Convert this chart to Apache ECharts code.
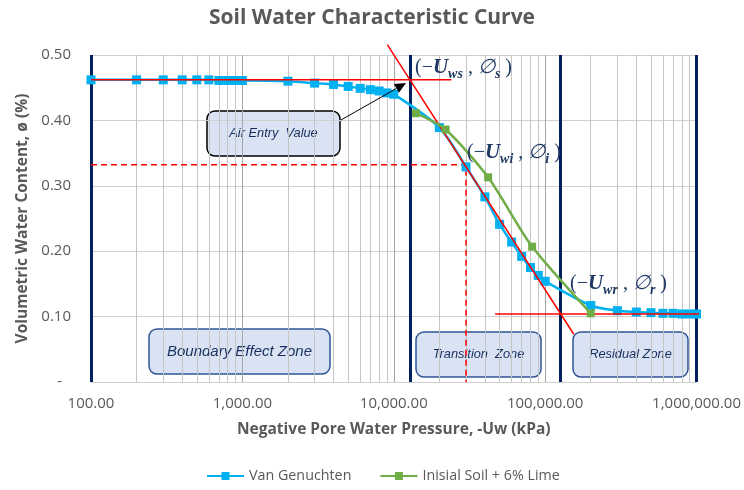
<!DOCTYPE html>
<html>
<head>
<meta charset="utf-8">
<script src="https://cdn.jsdelivr.net/npm/echarts@6/dist/echarts.min.js"></script>
<style>
  html, body { margin: 0; padding: 0; background: #fff; }
  #chart { width: 744px; height: 490px; }
</style>
</head>
<body>
<div id="chart"></div>
<script>
// Soil water characteristic curve: matric suction (kPa, log scale) vs volumetric water content

// Van Genuchten fit
const suctionVG = [100, 200, 300, 400, 500, 600, 700, 800, 900, 1000,
  2000, 3000, 4000, 5000, 6000, 7000, 8000, 9000, 10000,
  20000, 30000, 40000, 50000, 60000, 70000, 80000, 90000, 100000,
  200000, 300000, 400000, 500000, 600000, 700000, 800000, 900000, 1000000];
const contentVG = [0.462, 0.462, 0.462, 0.462, 0.462, 0.462, 0.461, 0.461, 0.461, 0.461,
  0.460, 0.457, 0.455, 0.452, 0.449, 0.447, 0.445, 0.442, 0.440,
  0.389, 0.329, 0.283, 0.241, 0.214, 0.192, 0.175, 0.163, 0.154,
  0.117, 0.109, 0.107, 0.106, 0.105, 0.105, 0.104, 0.104, 0.104];

// Measured: initial soil + 6% lime
const suctionLime = [14000, 22000, 42000, 82000, 200000];
const contentLime = [0.411, 0.386, 0.313, 0.207, 0.105];

// Construction lines of the SWCC
const saturatedLine = [[100, 0.462], [24000, 0.462]];
const tangentLine = [[9060, 0.516], [154600, 0.073]];
const residualLine = [[46700, 0.104], [1080000, 0.104]];
const inflectionGuide = [[100, 0.332], [30000, 0.332], [30000, 0]];

// Zone boundaries (kPa)
const zoneBounds = [100, 12800, 126500, 1000000];
const zoneNames = ['Boundary Effect Zone', 'Transition  Zone', 'Residual Zone'];

const seriesNames = ['Van Genuchten', 'Inisial Soil + 6% Lime'];

const FONT = '"Open Sans", "Liberation Sans", sans-serif';
const BOX_FONT = '"Liberation Sans", Arial, sans-serif';
const MATH_FONT = '"Liberation Serif", "DejaVu Serif", serif';
const GREY = '#595959';
const NAVY = '#002060';
const BOX_TEXT = '#172F5E';
const MATH = '#1F3864';

// minor log gridlines at 2..9 of each decade
const minorGrid = [];
for (let d = 100; d < 1000000; d *= 10) {
  for (let k = 2; k <= 9; k++) minorGrid.push(d * k);
}

function fmtX(v) {
  return Number(v).toLocaleString('en-US', { minimumFractionDigits: 2, maximumFractionDigits: 2 });
}

function pairs(xs, ys) { return xs.map((x, i) => [x, ys[i]]); }

function zoneBox(x, y, w, h, text, fontSize, stroke) {
  return {
    type: 'group', x, y, z: 20,
    children: [
      { type: 'rect', shape: { x: 0, y: 0, width: w, height: h, r: 8 },
        style: { fill: '#DAE3F3', stroke: stroke || '#2F5597', lineWidth: 1.5 } },
      { type: 'text', x: w / 2, y: h / 2,
        style: { text, fill: BOX_TEXT, font: `italic ${fontSize}px ${BOX_FONT}`, align: 'center', verticalAlign: 'middle' } }
    ]
  };
}

function mathLabel(x, y, sub, phiSub) {
  return {
    type: 'text', x, y, z: 30,
    style: {
      text: `{p|(−}{u|U}{s|${sub}}{p| , }{f|∅}{fs|${phiSub}}{p| )}`,
      verticalAlign: 'middle',
      rich: {
        p: { font: `20px ${MATH_FONT}`, fill: MATH, lineHeight: 26 },
        u: { font: `italic bold 21px ${MATH_FONT}`, fill: MATH, lineHeight: 26 },
        s: { font: `italic bold 14px ${MATH_FONT}`, fill: MATH, lineHeight: 12, verticalAlign: 'bottom' },
        f: { font: `italic 20px ${MATH_FONT}`, fill: MATH, lineHeight: 26 },
        fs: { font: `italic bold 14px ${MATH_FONT}`, fill: MATH, lineHeight: 12, verticalAlign: 'bottom' }
      }
    }
  };
}

function arrow(x1, y1, x2, y2) {
  const dx = x2 - x1, dy = y2 - y1, len = Math.hypot(dx, dy);
  const ux = dx / len, uy = dy / len, px = -uy, py = ux;
  const hl = 11, hw = 5;
  const bx = x2 - ux * hl, by = y2 - uy * hl;
  return [
    { type: 'line', z: 25, shape: { x1, y1, x2: bx, y2: by }, style: { stroke: '#000', lineWidth: 1 } },
    { type: 'polygon', z: 25, shape: { points: [[x2, y2], [bx + px * hw, by + py * hw], [bx - px * hw, by - py * hw]] },
      style: { fill: '#000' } }
  ];
}

const chart = echarts.init(document.getElementById('chart'), null, { renderer: 'canvas' });

const redLine = (data) => ({
  type: 'line', data, symbol: 'none', silent: true, z: 8,
  lineStyle: { color: '#FF0000', width: 1.5 }, clip: false
});

chart.setOption({
  animation: false,
  backgroundColor: '#fff',
  textStyle: { fontFamily: FONT },
  title: {
    text: 'Soil Water Characteristic Curve',
    left: 'center', top: 3,
    textStyle: { color: GREY, fontSize: 21, fontWeight: 'bold', fontFamily: FONT }
  },
  legend: {
    data: seriesNames,
    left: 206, top: 469, padding: 0,
    itemWidth: 37, itemHeight: 10, itemGap: 28,
    textStyle: { color: GREY, fontSize: 14.3, fontFamily: FONT }
  },
  grid: { left: 91, right: 46, top: 55, bottom: 108 },
  xAxis: {
    type: 'log', logBase: 10, min: 100, max: 1000000,
    name: 'Negative Pore Water Pressure, -Uw (kPa)',
    nameLocation: 'middle', nameGap: 40,
    nameTextStyle: { color: GREY, fontSize: 15.5, fontWeight: 'bold', fontFamily: FONT },
    axisLine: { show: false }, axisTick: { show: false },
    axisLabel: { formatter: fmtX, color: GREY, fontSize: 15, margin: 14, showMaxLabel: true, showMinLabel: true },
    splitLine: { show: true, lineStyle: { color: '#A6A6A6', width: 1 } }
  },
  yAxis: {
    type: 'value', min: 0, max: 0.5, interval: 0.1,
    name: 'Volumetric Water Content, ø (%)',
    nameLocation: 'middle', nameGap: 57,
    nameTextStyle: { color: GREY, fontSize: 15.5, fontWeight: 'bold', fontFamily: FONT },
    axisLine: { show: false }, axisTick: { show: false },
    axisLabel: {
      color: GREY, fontSize: 15, margin: 20,
      formatter: v => (v === 0 ? '{d|-}' : v.toFixed(2)),
      rich: { d: { color: GREY, fontSize: 15, padding: [0, 9, 0, 0] } }
    },
    splitLine: { show: true, lineStyle: { color: '#D0D0D0', width: 1 } }
  },
  series: [
    {
      type: 'line', data: [], silent: true, z: 1,
      markLine: {
        z: 1, silent: true, symbol: ['none', 'none'], label: { show: false },
        lineStyle: { color: '#C4C4C4', width: 1, type: 'solid' },
        data: minorGrid.map(v => ({ xAxis: v }))
      }
    },
    {
      type: 'line', data: [], silent: true, z: 2,
      markLine: {
        z: 2, silent: true, symbol: ['none', 'none'], label: { show: false },
        lineStyle: { color: NAVY, width: 3, type: 'solid' },
        data: zoneBounds.map(v => ({ xAxis: v }))
      }
    },
    {
      type: 'line', data: inflectionGuide, symbol: 'none', silent: true, z: 6,
      lineStyle: { color: '#FF0000', width: 1.5, type: [6, 4] }
    },
    {
      name: seriesNames[0], type: 'line', data: pairs(suctionVG, contentVG),
      smooth: 0.3, symbol: 'rect', symbolSize: 9, z: 7,
      itemStyle: { color: '#00B0F0' },
      lineStyle: { color: '#00B0F0', width: 2.5 }
    },
    redLine(saturatedLine),
    redLine(tangentLine),
    redLine(residualLine),
    {
      name: seriesNames[1], type: 'line', data: pairs(suctionLime, contentLime),
      smooth: 0.25, symbol: 'rect', symbolSize: 8, z: 9,
      itemStyle: { color: '#70AD47' },
      lineStyle: { color: '#70AD47', width: 2.5 }
    }
  ],
  graphic: [
    zoneBox(207, 111, 133, 45, 'Air Entry  Value', 12.8, '#000'),
    ...arrow(341, 120, 406, 83),
    zoneBox(149, 329, 181, 45, zoneNames[0], 15),
    zoneBox(416, 332, 125, 45, zoneNames[1], 12.8),
    zoneBox(573, 332, 115, 45, zoneNames[2], 12.8),
    mathLabel(415, 68, 'ws', 's'),
    mathLabel(467, 153, 'wi', 'i'),
    mathLabel(570, 284, 'wr', 'r')
  ]
});
</script>
</body>
</html>
